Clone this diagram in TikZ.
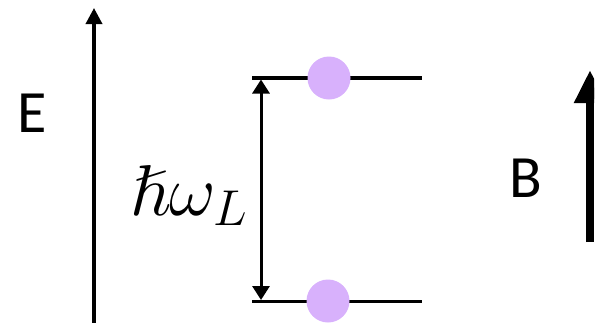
\RequirePackage{fix-cm}
\documentclass[tikz,border=0pt]{standalone}
\usepackage{fontspec}
\usepackage{amssymb}
\newfontfamily\calib{Carlito}
\usetikzlibrary{arrows.meta}
\definecolor{dotpurple}{RGB}{216,177,252}
\begin{document}
\begin{tikzpicture}[x=1pt,y=-1pt,
  lbl/.style={font=\calib\fontsize{60}{60}\selectfont, inner sep=0pt},
  level/.style={line width=3.3pt},
  dot/.style={circle, fill=dotpurple, minimum size=43pt, inner sep=0pt},
  axis/.style={line width=3.5pt, -{Triangle[width=16pt,length=16pt]}},
  gap/.style={line width=3pt, {Triangle[width=17pt,length=14pt]}-{Triangle[width=17pt,length=14pt]}},
  field/.style={line width=8pt, -{Triangle[width=30pt,length=33pt]}}]
\useasboundingbox (0,0) rectangle (597,322);
% energy axis
\coordinate (Ebot) at (94,323);
\coordinate (Etop) at (94,8);
\draw[axis] (Ebot) -- (Etop);
\node[lbl, anchor=base west] (E) at (17,132) {E};
% levels
\coordinate (upL) at (252,78);
\coordinate (upR) at (422,78);
\coordinate (loL) at (252,301.5);
\coordinate (loR) at (422,301.5);
\draw[level] (upL) -- (upR);
\draw[level] (loL) -- (loR);
\node[dot] (d1) at (329,78) {};
\node[dot] (d2) at (328,301) {};
% splitting arrow
\coordinate (gtop) at (261,79.5);
\coordinate (gbot) at (261,300);
\draw[gap] (gtop) -- (gbot);
\node[inner sep=0pt, anchor=base west, font=\fontsize{72}{72}\selectfont] (hw) at (130,215) {$\hslash\omega_L$};
% magnetic field
\node[lbl, anchor=base west] (B) at (509,197) {B};
\begin{scope}
\clip (0,0) rectangle (594,322);
\coordinate (Bbot) at (590,242);
\coordinate (Btop) at (590,70);
\draw[field] (Bbot) -- (Btop);
\end{scope}
\end{tikzpicture}
\end{document}
